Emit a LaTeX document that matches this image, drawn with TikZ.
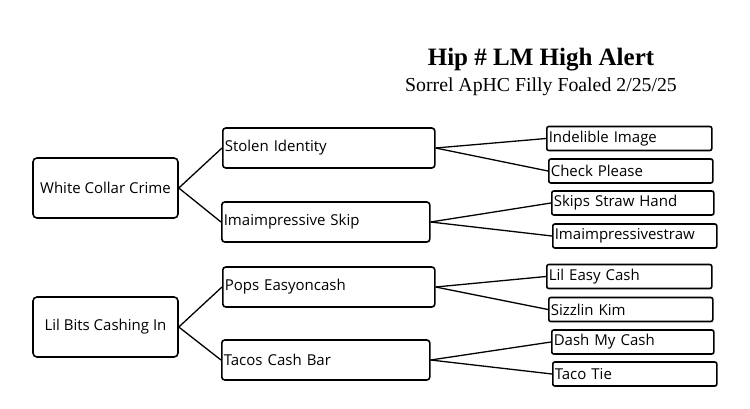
\documentclass[tikz,border=0pt]{standalone}
\usepackage{fontspec}
\setmainfont{Liberation Serif}
\newfontfamily\boxfont{Open Sans}
\usetikzlibrary{positioning}

\begin{document}
\begin{tikzpicture}[x=1pt,y=-1pt,
  rootbox/.style={draw, line width=1.6pt, rounded corners=4pt, minimum width=145pt, minimum height=60pt, inner sep=0pt, font=\boxfont\fontsize{15}{17}\selectfont},
  midbox/.style={draw, line width=1.6pt, rounded corners=3pt, anchor=west, minimum height=40pt, inner xsep=2pt, inner ysep=0pt, align=left, font=\boxfont\fontsize{15}{17}\selectfont},
  leafbox/.style={draw, line width=1.6pt, rounded corners=2pt, anchor=west, minimum height=24pt, inner xsep=2pt, inner ysep=0pt, align=left, font=\boxfont\fontsize{15}{17}\selectfont},
  link/.style={line width=1.3pt}]
\useasboundingbox (0,0) rectangle (750,408);

% Heading
\node[font=\bfseries\fontsize{25}{29}\selectfont] (title) at (541,60) {Hip \# LM High Alert};
\node[font=\fontsize{19.8}{23}\selectfont] (subtitle) at (541,87) {Sorrel ApHC Filly Foaled 2/25/25};

% Roots
\node[rootbox] (wcc) at (105.5,188) {White Collar Crime};
\node[rootbox] (bits) at (105.5,327) {Lil Bits Cashing In};

% Middle row
\node[midbox, text width=208pt] (stolen) at (222,148) {Stolen Identity};
\node[midbox, text width=204pt] (skip) at (221,222) {Imaimpressive Skip};
\node[midbox, text width=208pt] (pops) at (222,287) {Pops Easyoncash};
\node[midbox, text width=204pt] (tacos) at (221,360) {Tacos Cash Bar};

% Leaves
\node[leafbox, text width=161pt] (indelible) at (546,138.5) {Indelible Image};
\node[leafbox, text width=160pt] (check) at (548,171) {Check Please};
\node[leafbox, text width=158pt] (straw) at (551,203) {Skips Straw Hand};
\node[leafbox, text width=160pt] (imstraw) at (552,236) {Imaimpressivestraw};
\node[leafbox, text width=161pt] (easy) at (546,276.5) {Lil Easy Cash};
\node[leafbox, text width=160pt] (sizzlin) at (548,309.5) {Sizzlin Kim};
\node[leafbox, text width=158pt] (dash) at (551,342) {Dash My Cash};
\node[leafbox, text width=160pt] (taco) at (552,374) {Taco Tie};

% Connectors
\draw[link] (wcc.east) -- (stolen.west);
\draw[link] (wcc.east) -- (skip.west);
\draw[link] (bits.east) -- (pops.west);
\draw[link] (bits.east) -- (tacos.west);
\draw[link] (stolen.east) -- (indelible.west);
\draw[link] (stolen.east) -- (check.west);
\draw[link] (skip.east) -- (straw.west);
\draw[link] (skip.east) -- (imstraw.west);
\draw[link] (pops.east) -- (easy.west);
\draw[link] (pops.east) -- (sizzlin.west);
\draw[link] (tacos.east) -- (dash.west);
\draw[link] (tacos.east) -- (taco.west);
\end{tikzpicture}
\end{document}
